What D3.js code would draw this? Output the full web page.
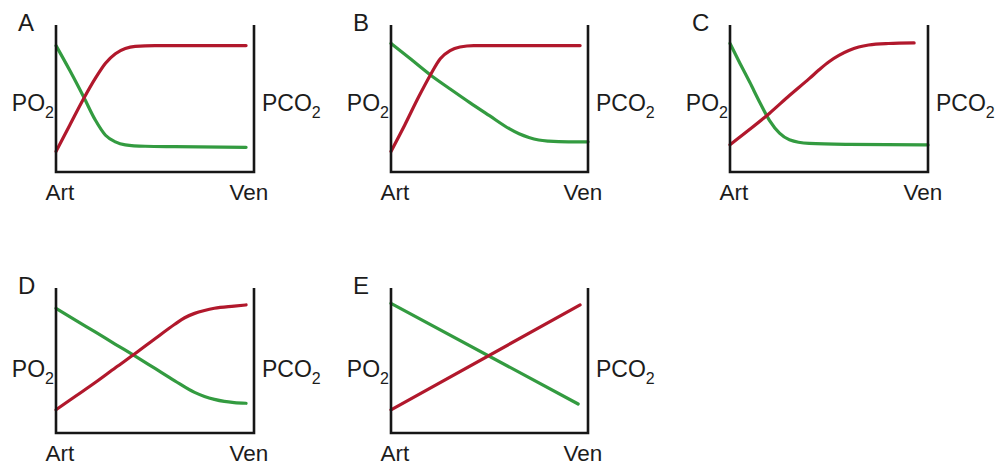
<!DOCTYPE html>
<html>
<head>
<meta charset="utf-8">
<script src="https://cdn.jsdelivr.net/npm/d3@7"></script>
<style>
  html, body { margin: 0; padding: 0; background: #ffffff; }
  svg { display: block; }
  text { font-family: "Liberation Sans", Arial, Helvetica, sans-serif; fill: #1c1c1c; }
</style>
</head>
<body>
<svg id="chart" width="1002" height="468"></svg>
<script>
// ---------- DATA ----------
// x: 0 = Art (arterial end), 1 = Ven (venous end); y: 0 = bottom, 100 = top of the axis
const panelNames = ["A", "B", "C", "D", "E"];
const xEndLabels = ["Art", "Ven"];
const leftLabel = ["PO", "2"];
const rightLabel = ["PCO", "2"];

const redA   = [[0,14],[0.07,32],[0.14,50],[0.2,64],[0.25,74],[0.3,80.5],[0.35,84],[0.4,85.5],[0.5,86],[0.7,86],[0.96,86]];
const greenA = [[0,86],[0.07,69],[0.14,51],[0.2,35],[0.25,25],[0.3,20.5],[0.35,18.5],[0.45,17.5],[0.6,17.2],[0.96,16.8]];

const redB   = [[0,14],[0.07,32],[0.14,51],[0.2,66],[0.25,77],[0.3,82.5],[0.35,85],[0.42,86],[0.55,86],[0.96,86]];
const greenB = [[0,87.5],[0.1,76.8],[0.2,66],[0.3,56.5],[0.4,47.2],[0.5,38.3],[0.6,29.5],[0.65,26],[0.7,23.5],[0.75,21.8],[0.8,21],[0.85,20.6],[0.9,20.5],[1,20.5]];

const redC   = [[0,18.5],[0.1,29],[0.2,40],[0.3,52],[0.4,63.5],[0.45,69.5],[0.5,75],[0.55,79.3],[0.6,82.6],[0.65,85],[0.7,86.4],[0.8,87.4],[0.93,87.8]];
const greenC = [[0,87.5],[0.05,74],[0.1,61],[0.15,47.5],[0.2,35],[0.25,26.5],[0.3,22],[0.4,19.5],[0.6,18.8],[1,18.4]];

const redD   = [[0,16],[0.1,25.5],[0.2,35],[0.3,45],[0.4,54.8],[0.5,65],[0.6,75],[0.65,79.5],[0.7,82.5],[0.75,84.5],[0.8,86],[0.9,87.5],[0.96,88.3]];
const greenD = [[0,86],[0.1,77.7],[0.2,69.5],[0.3,61.2],[0.4,53],[0.5,44.5],[0.6,36],[0.7,28],[0.75,25.2],[0.8,23.2],[0.85,21.8],[0.9,21],[0.96,20.5]];

const redE   = [[0,16],[0.96,88.3]];
const greenE = [[0,89.4],[0.95,20]];

const redSeries   = [redA, redB, redC, redD, redE];
const greenSeries = [greenA, greenB, greenC, greenD, greenE];

// ---------- LAYOUT ----------
const layout = [
  { left: 56,  right: 254, top: 25,  bottom: 172, labelDy: 86 },
  { left: 391, right: 588, top: 25,  bottom: 172, labelDy: 86 },
  { left: 730, right: 928, top: 25,  bottom: 172, labelDy: 86 },
  { left: 56,  right: 254, top: 288, bottom: 433, labelDy: 89 },
  { left: 391, right: 588, top: 288, bottom: 433, labelDy: 89 }
];
const RED = "#b1182c";
const GREEN = "#339b40";
const AXIS = "#161616";

const svg = d3.select("#chart");

panelNames.forEach((name, i) => {
  const L = layout[i];
  const x = d3.scaleLinear().domain([0, 1]).range([L.left, L.right]);
  const y = d3.scaleLinear().domain([0, 100]).range([L.bottom, L.top]);
  const g = svg.append("g");

  const line = d3.line()
    .x(d => x(d[0]))
    .y(d => y(d[1]))
    .curve(d3.curveMonotoneX);

  g.append("path").datum(greenSeries[i])
    .attr("d", line).attr("fill", "none")
    .attr("stroke", GREEN).attr("stroke-width", 3.2).attr("stroke-linecap", "round");
  g.append("path").datum(redSeries[i])
    .attr("d", line).attr("fill", "none")
    .attr("stroke", RED).attr("stroke-width", 3.2).attr("stroke-linecap", "round");

  // axes frame (left, bottom, right)
  g.append("path")
    .attr("d", `M${x(0)},${y(100)} L${x(0)},${y(0)} L${x(1)},${y(0)} L${x(1)},${y(100)}`)
    .attr("fill", "none").attr("stroke", AXIS).attr("stroke-width", 2.6);

  // panel letter
  g.append("text")
    .attr("x", x(0) - 38).attr("y", y(100) + 6)
    .attr("font-size", 24)
    .text(name);

  // left label PO2
  const tl = g.append("text")
    .attr("x", x(0) - 2).attr("y", y(100) + L.labelDy)
    .attr("text-anchor", "end")
    .attr("font-size", 23);
  tl.append("tspan").text(leftLabel[0]);
  tl.append("tspan").attr("font-size", 16).attr("dy", 7).text(leftLabel[1]);

  // right label PCO2
  const tr = g.append("text")
    .attr("x", x(1) + 8).attr("y", y(100) + L.labelDy)
    .attr("font-size", 23);
  tr.append("tspan").text(rightLabel[0]);
  tr.append("tspan").attr("font-size", 16).attr("dy", 7).text(rightLabel[1]);

  // Art / Ven
  g.append("text")
    .attr("x", x(0) + 4).attr("y", y(0) + 28)
    .attr("text-anchor", "middle").attr("font-size", 22.5)
    .text(xEndLabels[0]);
  g.append("text")
    .attr("x", x(1) - 5).attr("y", y(0) + 28)
    .attr("text-anchor", "middle").attr("font-size", 22.5)
    .text(xEndLabels[1]);
});
</script>
</body>
</html>
